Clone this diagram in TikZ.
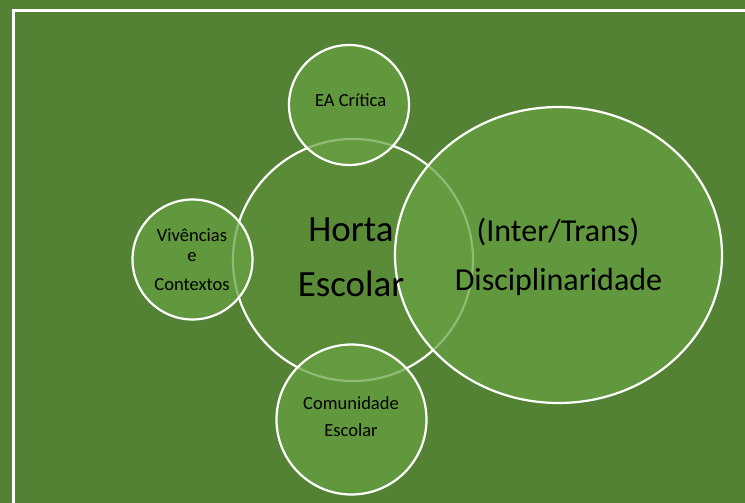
\documentclass[tikz,border=0pt]{standalone}
\usepackage{fontspec}
\setmainfont{Carlito}
\definecolor{bgG}{HTML}{548235}
\definecolor{midG}{HTML}{5A8C38}
\definecolor{outG}{HTML}{67A141}
\begin{document}
\begin{tikzpicture}[x=1pt,y=-1pt,
  ring/.style={draw=white,line width=2.2pt},
  outer/.style={ring,fill=outG,fill opacity=0.72,draw opacity=1},
  lbl/.style={anchor=base,inner sep=0pt,text=black,text opacity=1},
  big/.style={lbl,font=\fontsize{37}{37}\selectfont},
  mid/.style={lbl,font=\fontsize{32}{32}\selectfont},
  sml/.style={lbl,font=\fontsize{18.5}{18.5}\selectfont}]
\fill[bgG] (0,0) rectangle (745,503);
\useasboundingbox (0,0) rectangle (745,503);
\begin{scope}
\clip (0,0) rectangle (745,503);
\draw[white,line width=2.6pt] (13.3,10.5) rectangle (780,540);
\end{scope}
% central circle
\draw[ring,fill=midG] (353,260) ellipse [x radius=120,y radius=121] node (hor) {};
% outer circles
\draw[outer] (349,105) circle [radius=60] node (ea) {};
\draw[outer] (192.5,259.5) circle [radius=60] node (viv) {};
\draw[outer] (351.5,419.5) circle [radius=75] node (com) {};
\draw[outer] (558.5,255) ellipse [x radius=163.5,y radius=148] node (dis) {};
% labels
\node[big] (t1) at (351,241.7) {Horta};
\node[big] (t2) at (351,296.7) {Escolar};
\node[mid] (t3) at (558,241.7) {(Inter/Trans)};
\node[mid] (t4) at (558.5,290) {Disciplinaridade};
\node[sml] (t5) at (350.7,106.7) {EA Crítica};
\node[sml] (t6) at (192,241.7) {Vivências};
\node[sml] (t7) at (192,261) {e};
\node[sml] (t8) at (192,290) {Contextos};
\node[sml] (t9) at (351,409) {Comunidade};
\node[sml] (t10) at (351,436.7) {Escolar};
\end{tikzpicture}
\end{document}
